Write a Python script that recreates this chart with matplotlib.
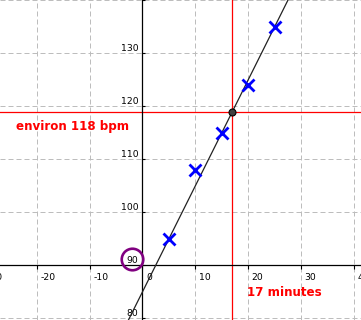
import numpy as np
import matplotlib
matplotlib.use("Agg")
import matplotlib.pyplot as plt
from matplotlib.transforms import offset_copy

# data
minutes = [5, 10, 15, 20, 25]
bpm = [95, 108, 115, 124, 135]
target_minutes = 17
xtick_values = [-30, -20, -10, 0, 10, 20, 30, 40]
xtick_labels = ["-30", "-20", "-10", "0", "10", "20", "30", "40"]
ytick_values = [80, 90, 100, 110, 120, 130]
ytick_labels = ["80", "90", "100", "110", "120", "130"]
label_bpm = "environ 118 bpm"
label_minutes = "17 minutes"
circled_value = 90

fig = plt.figure(figsize=(3.61, 3.20), dpi=100)
ax = fig.add_axes([0, 0, 1, 1])
ax.set_xlim(-26.96, 41.34)
ax.set_ylim(79.68, 140.06)

# spines through origin (x at 0, y at 90)
ax.spines['left'].set_position(('data', 0))
ax.spines['bottom'].set_position(('data', 90))
ax.spines['top'].set_visible(False)
ax.spines['right'].set_visible(False)
for s in ('left', 'bottom'):
    ax.spines[s].set_linewidth(0.9)
    ax.spines[s].set_zorder(3)

ax.set_xticks([v for v in xtick_values if v > -27])
ax.set_yticks(ytick_values + [140])
ax.tick_params(axis='x', direction='out', length=3.0, width=0.8,
               labelbottom=False)
ax.tick_params(axis='y', direction='in', length=2.2, width=0.8,
               labelleft=False)

ax.grid(True, color='#bdbdbd', linewidth=0.72, linestyle=(0, (5, 3)), zorder=0)
ax.set_axisbelow(True)

# tick labels as text
xoff = offset_copy(ax.transData, fig=fig, x=3.5, y=-7.5, units='dots')
for v, lab in zip(xtick_values, xtick_labels):
    ax.text(v, 90, lab, transform=xoff, ha='left', va='top',
            fontsize=6.7, color='black', clip_on=False)
yoff = offset_copy(ax.transData, fig=fig, x=-4.2, y=2.6, units='dots')
for v, lab in zip(ytick_values, ytick_labels):
    ax.text(0, v, lab, transform=yoff, ha='right', va='baseline',
            fontsize=6.7, color='black', clip_on=False)

# trend line through first and last points
slope = (bpm[-1] - bpm[0]) / (minutes[-1] - minutes[0])
intercept = bpm[0] - slope * minutes[0]
target_bpm = intercept + slope * target_minutes

ax.axvline(target_minutes, color='#ff0000', linewidth=0.9, zorder=2)
ax.axhline(target_bpm, color='#ff0000', linewidth=0.9, zorder=2)
ax.axline((minutes[0], bpm[0]), slope=slope, color='#222222',
          linewidth=0.9, zorder=4)

ax.plot(minutes, bpm, linestyle='none', marker='x', markersize=8.5,
        markeredgewidth=2.0, color='#0000ff', zorder=5)
ax.plot([target_minutes], [target_bpm], marker='o', markersize=5,
        markerfacecolor='#404040', markeredgecolor='#000000',
        markeredgewidth=0.8, zorder=6)

# circle around the 90 label
ax.plot([-2.04], [circled_value + 1.19], marker='o', markersize=15.5,
        markerfacecolor='none', markeredgecolor='#800080',
        markeredgewidth=1.9, zorder=6, clip_on=False)

ax.text(-13.25, 116.15, label_bpm, color='#ff0000', fontsize=8.6,
        fontweight='bold', ha='center', va='center')
ax.text(26.87, 84.91, label_minutes, color='#ff0000', fontsize=8.6,
        fontweight='bold', ha='center', va='center')

fig.savefig("out.png", dpi=100)
